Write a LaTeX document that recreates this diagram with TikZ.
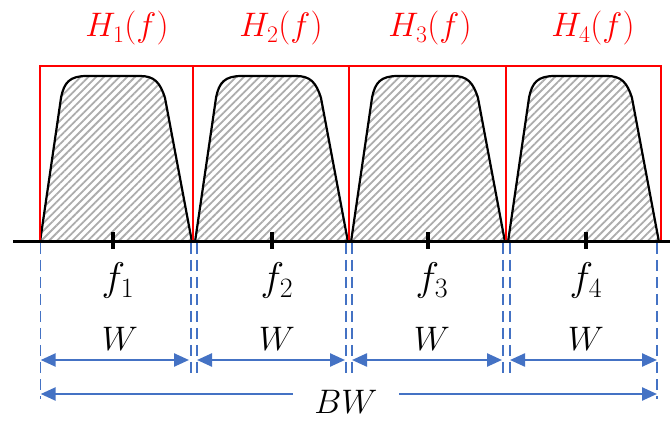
\RequirePackage{fix-cm}
\documentclass[tikz,border=0pt]{standalone}
\usetikzlibrary{patterns.meta,arrows.meta}
\definecolor{dimblue}{RGB}{68,114,196}
\tikzset{
  passband/.style={draw=black,line width=2.2pt,line join=round,
    pattern={Lines[angle=45,distance=5.5pt,line width=1.8pt]},pattern color=gray!65},
  filterbox/.style={draw=red,line width=2pt},
  axisline/.style={draw=black,line width=3pt},
  tickmark/.style={draw=black,line width=4pt},
  guide/.style={draw=dimblue,line width=1.4pt,dash pattern=on 11pt off 6pt},
  dimtip/.tip={Triangle[length=15pt,width=13pt]},
  dimarrow/.style={draw=dimblue,line width=2.4pt},
  lbl/.style={font=\fontsize{34}{40}\selectfont,inner sep=0pt,anchor=base},
  flbl/.style={lbl,font=\fontsize{40}{46}\selectfont},
  hlbl/.style={lbl,text=red},
}
\begin{document}
\begin{tikzpicture}[x=1pt,y=-1pt]
\useasboundingbox (0,0) rectangle (670,422);
% pass bands
\foreach \L/\R in {40/192,195/348,351/505,508/659}{
  \path[passband] (\L,242) -- (\L+21,98)
    .. controls (\L+24,82) and (\L+30,76) .. (\L+47,76)
    -- (\R-52,76) .. controls (\R-38,76) and (\R-32,82) .. (\R-27,98)
    -- (\R,242);
}
% filter boxes
\draw[filterbox] (40,242) -- (40,66) -- (661,66) -- (661,242);
\draw[filterbox] (193,66) -- (193,242);
\draw[filterbox] (349,66) -- (349,242);
\draw[filterbox] (506,66) -- (506,242);
% axis
\coordinate (axL) at (13,242);
\coordinate (axR) at (670,242);
\draw[axisline] (axL) -- (axR);
% ticks
\foreach \x in {113,272,428,586}{
  \draw[tickmark] (\x,232) -- (\x,249);
}
% labels
\node[hlbl] (h1) at (127,37) {$H_1(f)$};
\node[hlbl] (h2) at (281,37) {$H_2(f)$};
\node[hlbl] (h3) at (430,37) {$H_3(f)$};
\node[hlbl] (h4) at (593,37) {$H_4(f)$};
\node[flbl] (f1) at (118,291) {$f_1$};
\node[flbl] (f2) at (277,291) {$f_2$};
\node[flbl] (f3) at (432,291) {$f_3$};
\node[flbl] (f4) at (586,291) {$f_4$};
\node[lbl] (w1) at (120,351) {$W$};
\node[lbl] (w2) at (277,351) {$W$};
\node[lbl] (w3) at (432,351) {$W$};
\node[lbl] (w4) at (586,351) {$W$};
\node[lbl] (bw) at (346,413) {$BW$};
% guide lines
\draw[guide] (40.7,243) -- (40.7,399);
\draw[guide] (657,243) -- (657,399);
\foreach \x in {191,197,346,352,503,510}{
  \draw[guide] (\x,243) -- (\x,378);
}
% W arrows
\coordinate (a1) at (40.7,360); \coordinate (b1) at (189,360);
\coordinate (a2) at (197,360); \coordinate (b2) at (345,360);
\coordinate (a3) at (352,360); \coordinate (b3) at (502,360);
\coordinate (a4) at (510,360); \coordinate (b4) at (657,360);
\foreach \i in {1,2,3,4}{
  \draw[dimarrow,dimtip-dimtip] (a\i) -- (b\i);
}
% BW arrow
\coordinate (bwL) at (40.7,394);
\coordinate (bwA) at (293,394);
\coordinate (bwB) at (399,394);
\coordinate (bwR) at (657,394);
\draw[dimarrow,dimtip-] (bwL) -- (bwA);
\draw[dimarrow,-dimtip] (bwB) -- (bwR);
\end{tikzpicture}
\end{document}
